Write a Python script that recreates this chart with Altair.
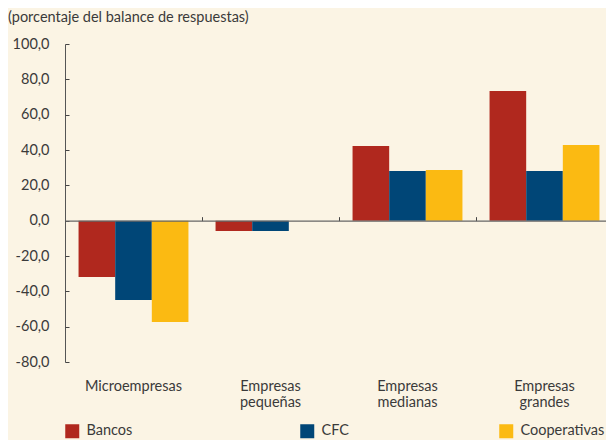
import altair as alt
import pandas as pd

categorias = ["Microempresas", "Empresas pequeñas", "Empresas medianas", "Empresas grandes"]
series = ["Bancos", "CFC", "Cooperativas"]
bancos = [-31.9, -5.8, 42.3, 73.4]
cfc = [-44.9, -5.8, 28.1, 28.1]
cooperativas = [-57.3, None, 28.7, 42.8]
colores = ["#B0281E", "#004677", "#FBBA12"]
y_ticks = [-80, -60, -40, -20, 0, 20, 40, 60, 80, 100]
legend_x = [0, 235, 434]

rows = []
for i, c in enumerate(categorias):
    for s, vals in zip(series, [bancos, cfc, cooperativas]):
        if vals[i] is not None:
            rows.append({"categoria": c, "serie": s, "valor": vals[i]})
df = pd.DataFrame(rows)

W, H = 548, 318
FONT = "Lato"
TXT = "#3a3a3a"
BG = "#FBF4E4"
zero_px = H * 100 / 180

color_scale = alt.Scale(domain=series, range=colores)


def legend_for(i):
    return alt.Legend(title=None, orient="none", legendX=legend_x[i], legendY=380,
                      values=[series[i]], symbolType="square", symbolSize=196,
                      symbolStrokeWidth=0, symbolOpacity=1, symbolFillColor=colores[i],
                      labelFontSize=14.5, labelColor=TXT, labelFont=FONT,
                      labelOffset=7, padding=0)


base = alt.Chart(df)

bars = base.mark_bar().encode(
    x=alt.X("categoria:N", sort=categorias,
            scale=alt.Scale(paddingInner=0, paddingOuter=0),
            axis=alt.Axis(orient="bottom", title=None, domain=False, ticks=False,
                          labelAngle=0, labelExpr="split(datum.label, ' ')",
                          labelPadding=17, labelFontSize=14.5, labelLineHeight=16,
                          labelColor=TXT, labelFont=FONT)),
    xOffset=alt.XOffset("serie:N", sort=series,
                        scale=alt.Scale(paddingOuter=0.37, paddingInner=0)),
    y=alt.Y("valor:Q", scale=alt.Scale(domain=[-80, 100], nice=False, zero=False),
            axis=alt.Axis(orient="left", title=None, values=y_ticks, ticks=False,
                          labelExpr="replace(replace(format(datum.value, '.1f'), '.', ','), '\u2212', '-')",
                          labelPadding=16, labelFontSize=14.5, labelColor=TXT, labelFont=FONT,
                          domain=True, domainColor="#555555", domainWidth=1, grid=False)),
    color=alt.Color("serie:N", sort=series, scale=color_scale, legend=legend_for(0)),
)

ticks_layer = base.mark_point(opacity=0, filled=True, shape="square").encode(
    x=alt.X("categoria:N", sort=categorias,
            axis=alt.Axis(orient="top", offset=-zero_px, labels=False, title=None,
                          bandPosition=1, tickSize=4, tickColor="#444444", tickWidth=1,
                          domain=True, domainColor="#666666", domainWidth=1.2, zindex=1)),
    y=alt.Y("valor:Q",
            axis=alt.Axis(orient="right", offset=-W, labels=False, title=None, domain=False,
                          values=y_ticks, tickSize=4, tickColor="#444444", tickWidth=1, grid=False)),
    color=alt.Color("serie:N", sort=series, scale=color_scale, legend=legend_for(1)),
)

third_layer = base.mark_point(opacity=0, filled=True, shape="square").encode(
    x=alt.X("categoria:N", sort=categorias, axis=None),
    y=alt.Y("valor:Q", axis=None),
    color=alt.Color("serie:N", sort=series, scale=color_scale, legend=legend_for(2)),
)

chart = alt.layer(bars, ticks_layer, third_layer).resolve_axis(
    x="independent", y="independent"
).resolve_legend(color="independent").properties(
    width=W, height=H,
    autosize=alt.AutoSizeParams(type="none"),
    padding={"left": 57, "top": 36, "right": -7, "bottom": 78},
    background=BG,
    title=alt.TitleParams("(porcentaje del balance de respuestas)", anchor="start", frame="group",
                          dx=-57, offset=11, fontSize=14.5, fontWeight="normal", color=TXT, font=FONT),
).configure_view(stroke=None)

chart.save("out.html", embed_options={"renderer": "svg", "actions": False})
